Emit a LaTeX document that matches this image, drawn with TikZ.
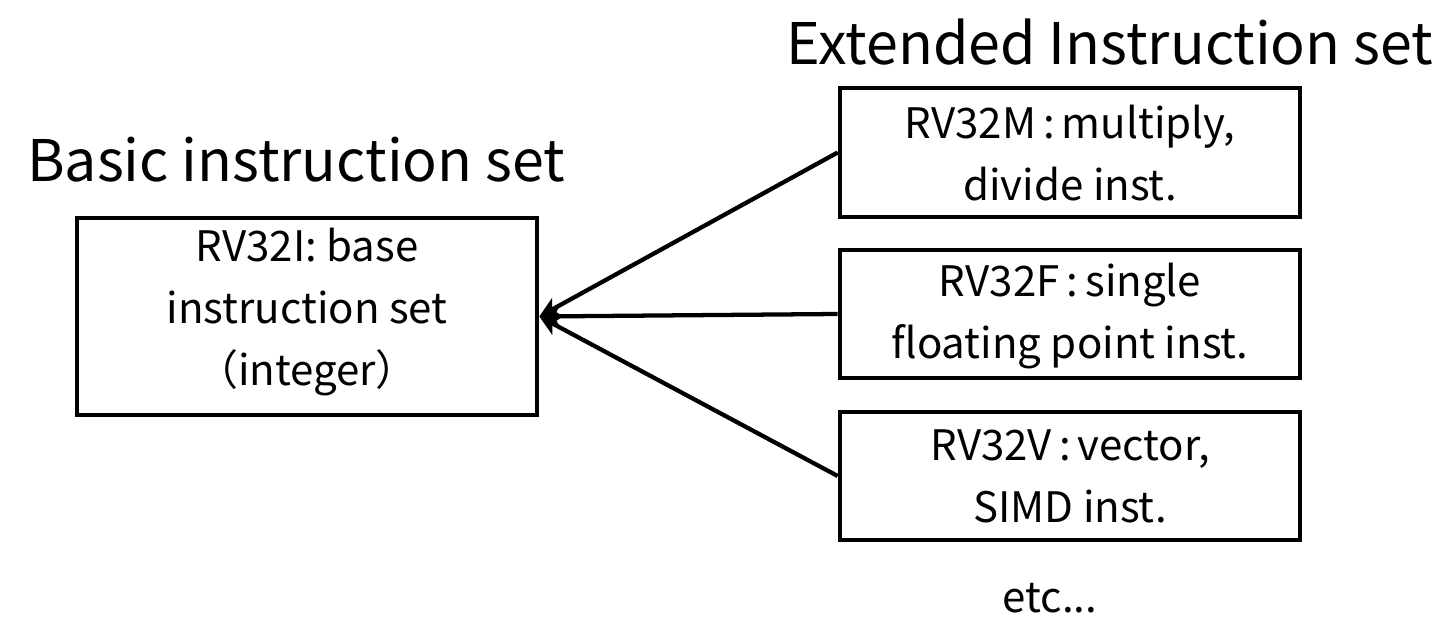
\documentclass[tikz,border=0pt]{standalone}
\usepackage{fontspec}
\setmainfont{Noto Sans CJK JP}
\usetikzlibrary{arrows.meta}
\tikzset{
  box/.style={draw, line width=3.5pt, rectangle, inner sep=0pt},
  boxtext/.style={align=center, font=\fontsize{31.5}{46.5}\selectfont, inner sep=0pt},
  title/.style={font=\fontsize{43}{50}\selectfont, inner sep=0pt},
  link/.style={line width=3.2pt, -{Stealth[length=15pt, width=15pt, inset=4pt]}}
}
\newcommand{\sep}{\,:\,}
\begin{document}
\begin{tikzpicture}[x=0.75pt, y=-0.75pt]
  \useasboundingbox (0,0) rectangle (1447,630);

  % headings
  \node[title] (basic) at (296,160) {Basic instruction set};
  \node[title] (ext) at (1110,42) {Extended Instruction set};

  % base instruction set
  \node[box, minimum width=460*0.75pt, minimum height=197*0.75pt] (base) at (307,316.5) {};
  \node[boxtext] (basetext) at (307,312) {RV32I: base\\instruction set\\（integer）};

  % extensions
  \node[box, minimum width=460*0.75pt, minimum height=129*0.75pt] (m) at (1070,152.5) {};
  \node[boxtext] (mtext) at (1070,153) {RV32M\sep multiply,\\divide inst.};

  \node[box, minimum width=460*0.75pt, minimum height=128*0.75pt] (f) at (1070,314) {};
  \node[boxtext] (ftext) at (1070,316) {RV32F\sep single\\floating point inst.};

  \node[box, minimum width=460*0.75pt, minimum height=128*0.75pt] (v) at (1070,476) {};
  \node[boxtext] (vtext) at (1070,476) {RV32V\sep vector,\\SIMD inst.};

  \node[boxtext] (etc) at (1050,598) {etc...};

  % connectors
  \draw[link] (m.west) -- (base.east);
  \draw[link] (f.west) -- (base.east);
  \draw[link] (v.west) -- (base.east);
\end{tikzpicture}
\end{document}
